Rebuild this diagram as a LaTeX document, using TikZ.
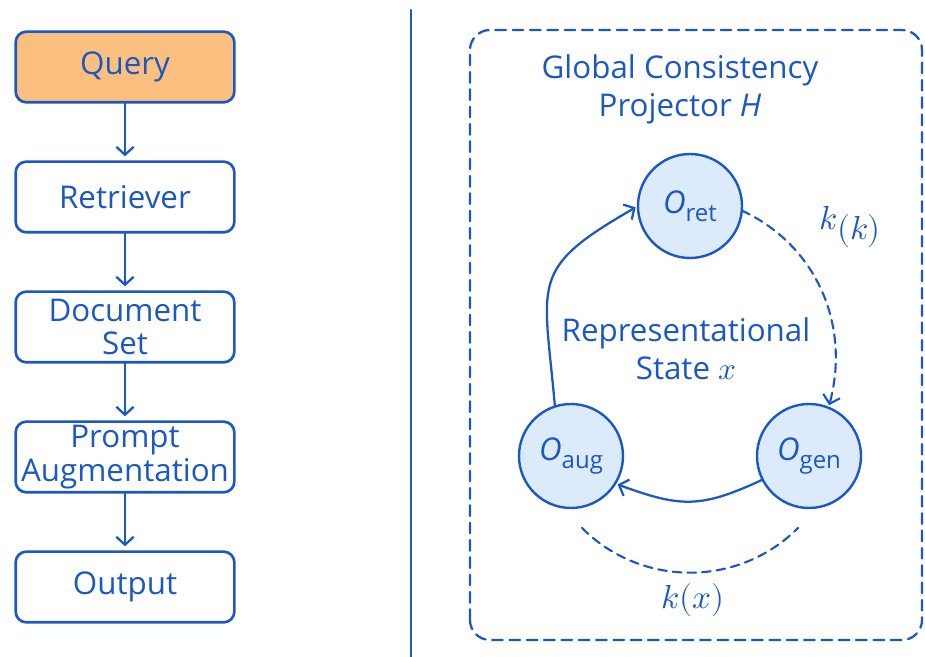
\documentclass[tikz,border=0pt]{standalone}
\usepackage{fontspec}
\usepackage{unicode-math}
\setmainfont{Open Sans}
\setmathfont{Latin Modern Math}
\usetikzlibrary{positioning,arrows.meta}
\definecolor{pblue}{HTML}{1B58C2}
\definecolor{qorange}{HTML}{FBBF7F}
\definecolor{cfill}{HTML}{DCEBFB}
\tikzset{
  stage/.style={draw=pblue, line width=2pt, rounded corners=8pt, outer sep=0pt, inner sep=0pt,
    minimum width=164pt, minimum height=53pt, align=center, text=pblue},
  opnode/.style={circle, draw=pblue, fill=cfill, line width=1.8pt, outer sep=0pt, inner sep=0pt,
    minimum size=78pt, text=pblue},
  flow/.style={->, line width=1.7pt},
  dashflow/.style={line width=1.6pt, dash pattern=on 6.5pt off 4.5pt},
}
\newcommand{\opname}[2]{\textit{#1}\raisebox{-0.45ex}{\fontsize{18}{18}\selectfont #2}}
\begin{document}
\begin{tikzpicture}[x=0.75pt,y=0.75pt, font=\fontsize{23.5}{25}\selectfont, line join=round, line cap=round,
  >={Straight Barb[length=6pt,width=13pt]}, pblue]
\useasboundingbox (0,0) rectangle (925,657);
% pipeline
\node[stage, fill=qorange] (query) at (125,590) {Query};
\node[stage, below=44.5pt of query] (retr) {Retriever};
\node[stage, below=44.5pt of retr] (docs) {Document\\Set};
\node[stage, below=44.5pt of docs] (prompt) {Prompt\\Augmentation};
\node[stage, below=44.5pt of prompt] (out) {Output};
\foreach \a/\b in {query/retr, retr/docs, docs/prompt, prompt/out}{\draw[flow, shorten >=4pt] (\a) -- (\b);}
% separator
\draw[line width=1.5pt] (411,0) -- (411,647);
% projector frame
\draw[line width=1.7pt, rounded corners=15pt, dash pattern=on 8pt off 5pt] (470,17) rectangle (922,627);
\node[align=center, font=\fontsize{23.5}{28.5}\selectfont] (title) at (680,568) {Global Consistency\\Projector \textit{H}};
\node[align=center, font=\fontsize{23.5}{28.5}\selectfont] (state) at (686,308) {Representational\\State $x$};
% operators
\node[opnode] (ret) at (690,451) {\opname{O}{ret}};
\node[opnode] (aug) at (571,201) {\opname{O}{aug}};
\node[opnode] (gen) at (809,201) {\opname{O}{gen}};
\draw[flow, shorten >=2pt] (aug.108) to[out=95,in=210,looseness=1.5] (ret.west);
\draw[flow, shorten >=2pt] (gen.207) to[out=205,in=-20,looseness=1.2] (aug.-32);
\draw[dashflow, ->, shorten >=2pt] (ret.-5) to[out=-25,in=75] (gen.68);
\coordinate (ka) at (582,129);
\coordinate (kg) at (798,129);
\draw[dashflow] (ka) to[out=-45,in=-135] (kg);
\node[font=\fontsize{25}{25}\selectfont] (kk) at (850,430) {$k\raisebox{-0.55ex}{$(k)$}$};
\node[font=\fontsize{25}{25}\selectfont] (kx) at (693,57) {$k(x)$};
\end{tikzpicture}
\end{document}
